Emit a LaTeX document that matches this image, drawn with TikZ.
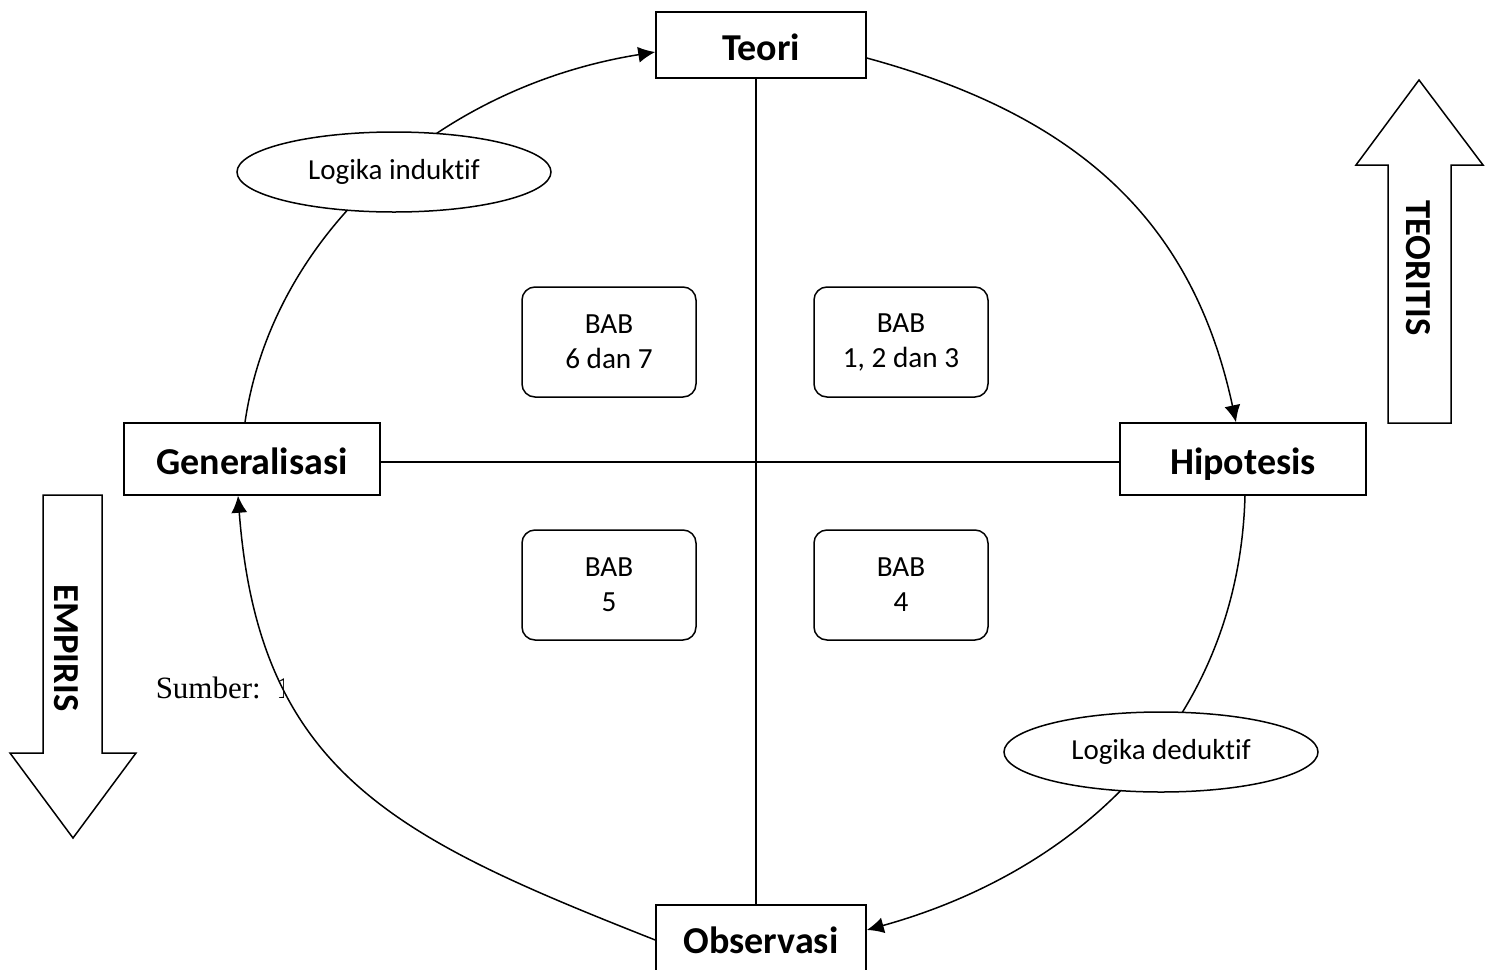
\documentclass[tikz,border=0pt]{standalone}
\usepackage{fontspec}
\setmainfont{Carlito}[Ligatures={NoCommon}]
\newfontfamily\serifsumber{Liberation Serif}
\usetikzlibrary{calc,arrows.meta,shapes.geometric}
\begin{document}
\begin{tikzpicture}[x=0.5pt,y=-0.5pt,line width=0.75pt,
  mainbox/.style={draw,fill=white,minimum width=105pt,minimum height=33pt,inner sep=0pt,
    text height=15pt,text depth=0pt,font=\fontsize{19}{22}\selectfont\bfseries},
  babbox/.style={draw,rounded corners=6.5pt,minimum width=87pt,minimum height=55pt,inner sep=0pt,
    align=center,font=\fontsize{14.6}{17.5}\selectfont},
  logic/.style={draw,fill=white,ellipse,minimum width=157pt,minimum height=40pt,inner sep=0pt,
    font=\fontsize{14.5}{17}\selectfont},
  flow/.style={-{Latex[length=8.5pt,width=8pt]}},
  blockarrow/.style={draw,fill=white,line join=miter},
  sidelabel/.style={rotate=-90,inner sep=0pt,font=\fontsize{18.3}{21}\selectfont\bfseries}
]
\useasboundingbox (0,0) rectangle (1490,970);

% main boxes
\node[mainbox] (Teori) at (761,45) {Teori};
\node[mainbox,minimum width=128pt,minimum height=36pt] (Gen) at (252,459) {Generalisasi};
\node[mainbox,minimum width=123pt,minimum height=36pt] (Hip) at (1243,459) {Hipotesis};
\node[mainbox] (Obs) at (761,938) {Observasi};

% cross lines
\draw ($(Teori.south)+(-5,0)$) -- ($(Obs.north)+(-5,0)$);
\draw ($(Gen.east)+(0,3)$) -- ($(Hip.west)+(0,3)$);

% chapter boxes
\node[babbox] (b67) at (609,342) {BAB\\6 dan 7};
\node[babbox] (b123) at (901,342) {BAB\\1, 2 dan 3};
\node[babbox] (b5) at (609,585) {BAB\\5};
\node[babbox] (b4) at (901,585) {BAB\\4};

% cycle arcs
\draw[flow] ($(Gen.north)+(-7,0)$) .. controls (272,237) and (436,87) .. ($(Teori.west)+(0,7)$);
\draw[flow] ($(Teori.east)+(0,13)$) .. controls (1080,116) and (1193,222) .. ($(Hip.north)+(-7,0)$);
\draw[flow] ($(Hip.south)+(2,0)$) .. controls (1239,719) and (1083,870) .. ($(Obs.east)+(0,-8)$);
\draw[flow] ($(Obs.west)+(0,2)$) .. controls (397,838) and (259,774) .. ($(Gen.south)+(-14,0)$);

% logic ellipses
\node[logic] (ind) at (394,172) {Logika induktif};
\node[logic] (ded) at (1161,752) {Logika deduktif};

% block arrows
\draw[blockarrow] (1388,423) -- (1388,165) -- (1356,165) -- (1419,80) -- (1483,165) -- (1451,165) -- (1451,423) -- cycle;
\node[sidelabel] (teo) at (1418,268) {TEORITIS};
\draw[blockarrow] (43,495) -- (102,495) -- (102,753) -- (136,753) -- (73,838) -- (10,753) -- (43,753) -- cycle;
\node[sidelabel] (emp) at (66,648) {EMPIRIS};

% source text (clipped by the arc)
\begin{scope}
\clip (140,640) rectangle (283,730);
\node[anchor=base west,inner sep=0pt,font=\serifsumber\fontsize{15.5}{18}\selectfont] (src) at (155,698) {Sumber:\ \ 1};
\end{scope}
\end{tikzpicture}
\end{document}
